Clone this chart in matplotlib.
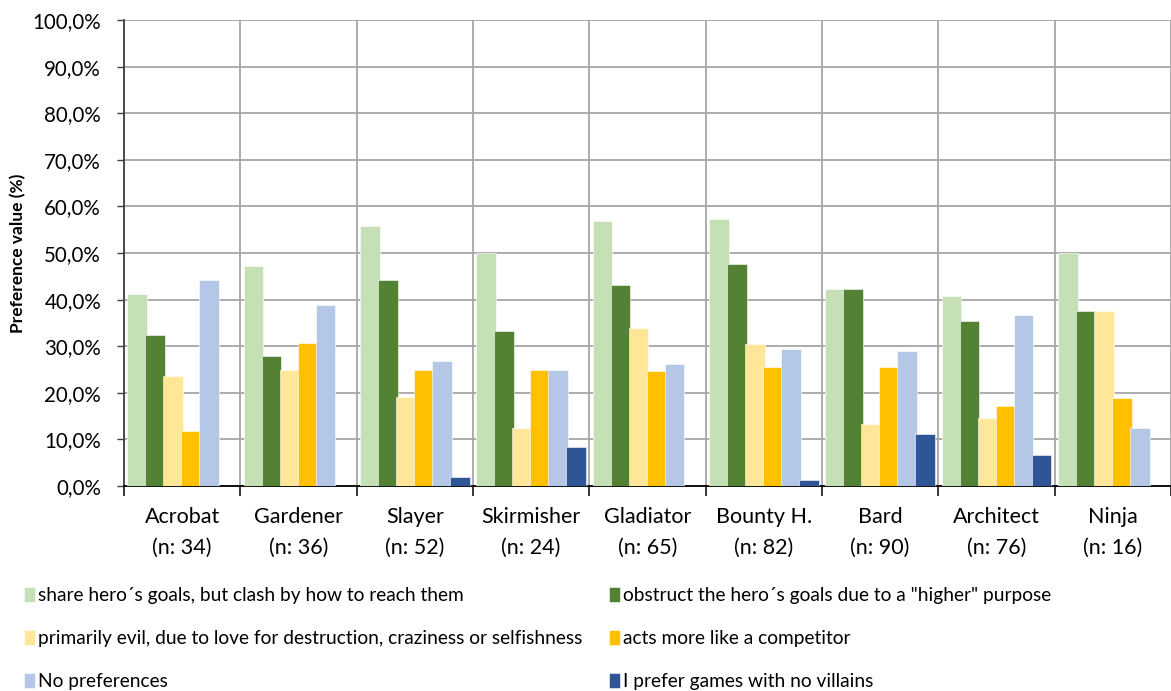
import numpy as np
import matplotlib.pyplot as plt
from matplotlib.ticker import FuncFormatter

plt.rcParams['font.family'] = ['Lato', 'DejaVu Sans']

# villain types and sample size per group
types = ['Acrobat', 'Gardener', 'Slayer', 'Skirmisher', 'Gladiator',
         'Bounty H.', 'Bard', 'Architect', 'Ninja']
n_vals = [34, 36, 52, 24, 65, 82, 90, 76, 16]

# preference values in percent, one list per answer
share_goals = [41.2, 47.2, 55.8, 50.0, 56.9, 57.3, 42.2, 40.8, 50.0]
obstruct = [32.4, 27.8, 44.2, 33.3, 43.1, 47.6, 42.2, 35.5, 37.5]
evil = [23.5, 25.0, 19.2, 12.5, 33.8, 30.5, 13.3, 14.5, 37.5]
competitor = [11.8, 30.6, 25.0, 25.0, 24.6, 25.6, 25.6, 17.1, 18.8]
no_pref = [44.1, 38.9, 26.9, 25.0, 26.2, 29.3, 28.9, 36.8, 12.5]
no_villains = [0.0, 0.0, 1.9, 8.3, 0.0, 1.2, 11.1, 6.6, 0.0]

labels = ['share hero´s goals, but clash by how to reach them',
          'obstruct the hero´s goals due to a "higher" purpose',
          'primarily evil, due to love for destruction, craziness or selfishness',
          'acts more like a competitor',
          'No preferences',
          'I prefer games with no villains']
colors = ['#C5E0B4', '#548235', '#FFE699', '#FFC000', '#B4C7E7', '#2F5597']
series = [share_goals, obstruct, evil, competitor, no_pref, no_villains]

fig = plt.figure(figsize=(11.71, 6.91), dpi=100)
ax = fig.add_axes([124 / 1171, 1 - 486 / 691, 1047 / 1171, 466 / 691])

x = np.arange(len(types))
step = 0.155
width = 0.17
handles = []
for k, (vals, col, lab) in enumerate(zip(series, colors, labels)):
    v = np.array(vals, dtype=float)
    keep = v > 0  # empty answers get no bar at all
    b = ax.bar((x + (k - 2.5) * step)[keep], v[keep], width, color=col, label=lab,
               edgecolor='white', linewidth=0.4, zorder=3)
    handles.append(b)

ax.set_xlim(-0.5, len(types) - 0.5)
ax.set_ylim(0, 100)
ax.set_yticks(np.arange(0, 101, 10))
ax.yaxis.set_major_formatter(FuncFormatter(lambda v, p: f'{v:.1f}%'.replace('.', ',')))
ax.set_xticks(np.arange(-0.5, len(types), 1.0))
ax.set_xticklabels([])
ax.set_xticks(x, minor=True)
ax.set_xticklabels([f'{t}\n(n: {n})' for t, n in zip(types, n_vals)], minor=True,
                   fontsize=15.5, linespacing=1.72)
ax.tick_params(axis='x', which='minor', length=0, pad=15)
ax.tick_params(axis='x', which='major', length=7, width=1.1, color='black')
ax.tick_params(axis='y', length=5, width=1, color='#404040', labelsize=14.8, pad=11.5)

ax.grid(True, color='#A6A6A6', linewidth=1.3, zorder=0)
for s in ['top', 'right']:
    ax.spines[s].set_visible(False)
ax.spines['left'].set_color('#404040')
ax.spines['left'].set_linewidth(1.3)
ax.spines['bottom'].set_color('#000000')
ax.spines['bottom'].set_linewidth(1.3)

ax.set_ylabel('Preference value (%)', fontsize=12.5, fontweight='bold')
ax.yaxis.set_label_coords(-0.093, 0.5)

# legend in two fixed columns
leg_kw = dict(loc='upper left', frameon=False, fontsize=13.8, handlelength=0.55,
              handleheight=0.8, handletextpad=0.2, labelspacing=1.36,
              borderaxespad=0, borderpad=0)
for cols, x0 in [([0, 2, 4], 24), ([1, 3, 5], 609)]:
    fig.legend([handles[i] for i in cols], [labels[i] for i in cols],
               bbox_to_anchor=(x0 / 1171, 1 - 587 / 691), **leg_kw)

fig.savefig('out.png', dpi=100)
